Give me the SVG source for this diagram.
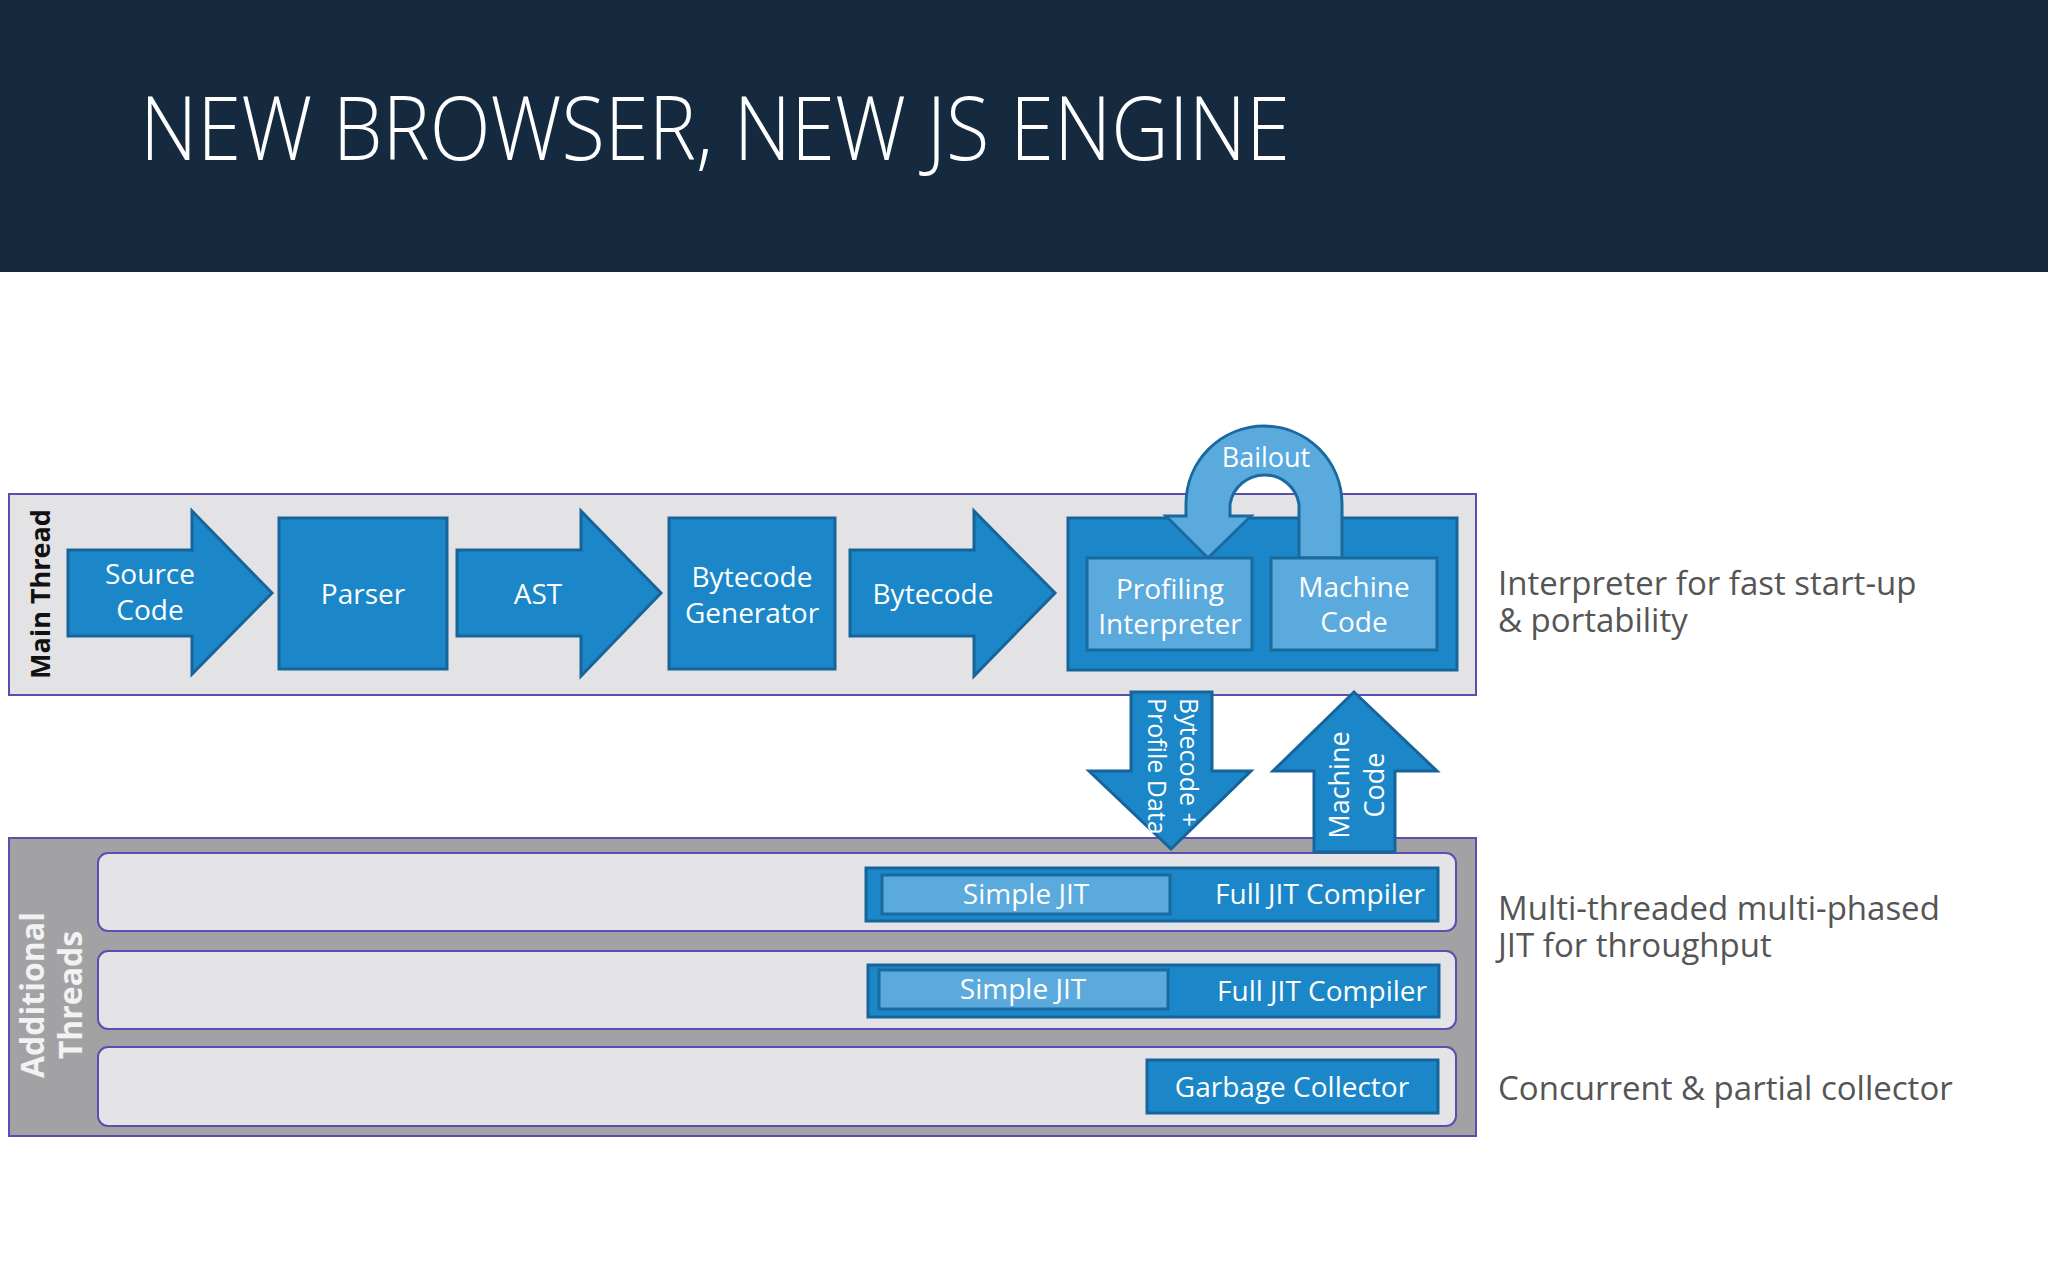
<svg xmlns="http://www.w3.org/2000/svg" width="2048" height="1280" viewBox="0 0 2048 1280">
<style>
.b{fill:#1b87c8;stroke:#16649a;stroke-width:3}
.l{fill:#5aaade;stroke:#1a6aa0;stroke-width:3}
.t{font-family:"Open Sans","Liberation Sans",sans-serif;font-size:28px;fill:#fff;text-anchor:middle}
.r{font-family:"Open Sans","Liberation Sans",sans-serif;font-size:33px;fill:#555}
.lane{fill:#e4e4e7;stroke:#5a4fb0;stroke-width:2}
</style>
<rect width="2048" height="1280" fill="#fff"/>
<rect width="2048" height="272" fill="#152a3f"/>
<text x="140" y="160" font-family="Open Sans, Liberation Sans, sans-serif" font-weight="300" font-size="88" fill="#fff" textLength="1150" lengthAdjust="spacingAndGlyphs">NEW BROWSER, NEW JS ENGINE</text>
<g id="main-thread">
<rect x="9" y="494" width="1467" height="201" fill="#e3e3e6" stroke="#5a4fb0" stroke-width="2"/>
<text transform="translate(50,594) rotate(-90)" font-family="Open Sans, Liberation Sans, sans-serif" font-weight="bold" font-size="27" fill="#111" text-anchor="middle">Main Thread</text>
</g>
<g id="additional-threads">
<rect x="9" y="838" width="1467" height="298" fill="#a2a2a5" stroke="#5a4fb0" stroke-width="2"/>
<text transform="translate(44,995) rotate(-90)" font-family="Open Sans, Liberation Sans, sans-serif" font-weight="bold" font-size="32" fill="#f2f2f2" text-anchor="middle">Additional</text>
<text transform="translate(82,995) rotate(-90)" font-family="Open Sans, Liberation Sans, sans-serif" font-weight="bold" font-size="32" fill="#f2f2f2" text-anchor="middle">Threads</text>
<rect class="lane" x="98" y="853" width="1358" height="78" rx="10"/>
<rect class="lane" x="98" y="951" width="1358" height="78" rx="10"/>
<rect class="lane" x="98" y="1047" width="1358" height="79" rx="10"/>
</g>
<g id="source-code"><path class="b" d="M68,550H192V511L272,593L192,674V636H68Z"/><text class="t" x="150" y="584">Source</text><text class="t" x="150" y="620">Code</text></g>
<g id="parser"><rect class="b" x="279" y="518" width="168" height="151"/><text class="t" x="363" y="604">Parser</text></g>
<g id="ast"><path class="b" d="M457,550H581V511L661,593L581,676V636H457Z"/><text class="t" x="538" y="604">AST</text></g>
<g id="bytecode-generator"><rect class="b" x="669" y="518" width="166" height="151"/><text class="t" x="752" y="587">Bytecode</text><text class="t" x="752" y="623">Generator</text></g>
<g id="bytecode"><path class="b" d="M850,550H974V511L1055,593L974,676V636H850Z"/><text class="t" x="933" y="604">Bytecode</text></g>
<g id="engine"><rect class="b" x="1068" y="518" width="389" height="152"/></g>
<g id="connectors">
<path class="l" d="M1186,516V504A78,78 0 0 1 1342,504V558H1299V504A35,35 0 0 0 1230,504V516H1251L1208,558L1166,516Z"/>
<text class="t" x="1266" y="467" style="font-size:27px">Bailout</text>
<path class="b" d="M1131,692H1212V771H1251L1171,849L1089,771H1131Z"/>
<text class="t" transform="translate(1180,698) rotate(90)" style="text-anchor:start;font-size:25px">Bytecode +</text>
<text class="t" transform="translate(1148,698) rotate(90)" style="text-anchor:start;font-size:25px">Profile Data</text>
<path class="b" d="M1314,852V771H1273L1354,692L1437,771H1395V852Z"/>
<text class="t" transform="translate(1349,785) rotate(-90)" style="font-size:27px">Machine</text>
<text class="t" transform="translate(1384,785) rotate(-90)" style="font-size:27px">Code</text>
</g>
<g id="profiling-interpreter"><rect class="l" x="1087" y="558" width="165" height="92"/><text class="t" x="1170" y="599">Profiling</text><text class="t" x="1170" y="634">Interpreter</text></g>
<g id="machine-code"><rect class="l" x="1271" y="558" width="166" height="92"/><text class="t" x="1354" y="597">Machine</text><text class="t" x="1354" y="632">Code</text></g>
<g id="jit1"><rect class="b" x="866" y="868" width="572" height="53"/><rect class="l" x="882" y="875" width="288" height="39"/><text class="t" x="1026" y="904">Simple JIT</text><text class="t" x="1320" y="904">Full JIT Compiler</text></g>
<g id="jit2"><rect class="b" x="868" y="965" width="571" height="52"/><rect class="l" x="879" y="970" width="289" height="39"/><text class="t" x="1023" y="999">Simple JIT</text><text class="t" x="1322" y="1001">Full JIT Compiler</text></g>
<g id="gc"><rect class="b" x="1147" y="1060" width="291" height="53"/><text class="t" x="1292" y="1097">Garbage Collector</text></g>
<g id="notes">
<text class="r" x="1498" y="595">Interpreter for fast start-up</text>
<text class="r" x="1498" y="632">&amp; portability</text>
<text class="r" x="1498" y="920">Multi-threaded multi-phased</text>
<text class="r" x="1498" y="957">JIT for throughput</text>
<text class="r" x="1498" y="1100">Concurrent &amp; partial collector</text>
</g>
</svg>
